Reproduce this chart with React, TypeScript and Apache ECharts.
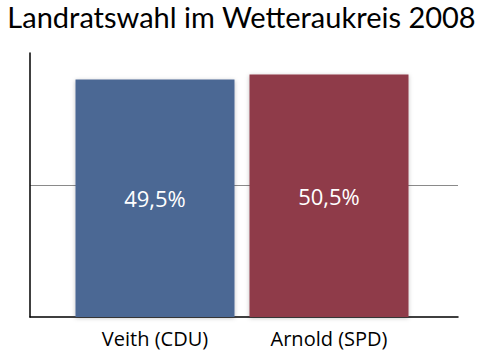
import React, { useEffect, useRef } from "react";
import * as echarts from "echarts";

const titleText = "Landratswahl im Wetteraukreis 2008";
const categories = ["Veith (CDU)", "Arnold (SPD)"];
const values = [49.5, 50.5];
const barColors = ["#4b6794", "#8f3b49"];
const yMax = 55;
const yInterval = 27.5;

export default function App() {
  const ref = useRef<HTMLDivElement>(null);
  useEffect(() => {
    if (!ref.current) return;
    const chart = echarts.init(ref.current, undefined, { renderer: "svg" });
    chart.setOption({
      animation: false,
      backgroundColor: "#ffffff",
      title: {
        text: titleText,
        left: "center",
        top: -1,
        padding: 0,
        textStyle: {
          fontFamily: "Lato",
          fontWeight: "normal",
          fontSize: 29,
          color: "#000",
          lineHeight: 34,
        },
      },
      grid: [
        { left: 68, right: 67, top: 53, bottom: 40 },
        { left: 30, right: 25, top: 53, bottom: 40 },
      ],
      xAxis: [
        {
          type: "category",
          gridIndex: 0,
          data: categories,
          axisLine: { show: false },
          axisTick: { show: false },
          axisLabel: {
            fontFamily: "Open Sans",
            fontSize: 20,
            color: "#000",
            margin: 11,
          },
        },
        {
          type: "value",
          gridIndex: 1,
          min: 0,
          max: 1,
          axisLine: { show: true, lineStyle: { color: "#000", width: 1.5 } },
          axisTick: { show: false },
          axisLabel: { show: false },
          splitLine: { show: false },
        },
      ],
      yAxis: [
        {
          type: "value",
          gridIndex: 0,
          min: 0,
          max: yMax,
          interval: yInterval,
          axisLine: { show: false },
          axisTick: { show: false },
          axisLabel: { show: false },
          splitLine: { show: false },
        },
        {
          type: "value",
          gridIndex: 1,
          min: 0,
          max: yMax,
          interval: yInterval,
          axisLine: { show: true, lineStyle: { color: "#000", width: 1.5 } },
          axisTick: { show: false },
          axisLabel: { show: false },
          splitLine: {
            show: true,
            lineStyle: { color: ["rgba(0,0,0,0)", "#8a8a8a", "rgba(0,0,0,0)"], width: 1 },
          },
        },
      ],
      series: [
        {
          type: "bar",
          xAxisIndex: 0,
          yAxisIndex: 0,
          barWidth: 159,
          z: 3,
          data: values.map((v, i) => ({
            value: v,
            itemStyle: {
              color: barColors[i],
              shadowColor: "rgba(0,0,0,0.25)",
              shadowBlur: 4,
              shadowOffsetY: 1,
            },
          })),
          label: {
            show: true,
            position: "inside",
            color: "#fff",
            fontFamily: "Open Sans",
            fontSize: 22,
            formatter: (p: any) => String(p.value).replace(".", ",") + "%",
          },
        },
      ],
    });
    return () => chart.dispose();
  }, []);
  return (
    <div
      ref={ref}
      style={{ position: "absolute", left: 0, top: 0, width: 483, height: 357 }}
    />
  );
}
